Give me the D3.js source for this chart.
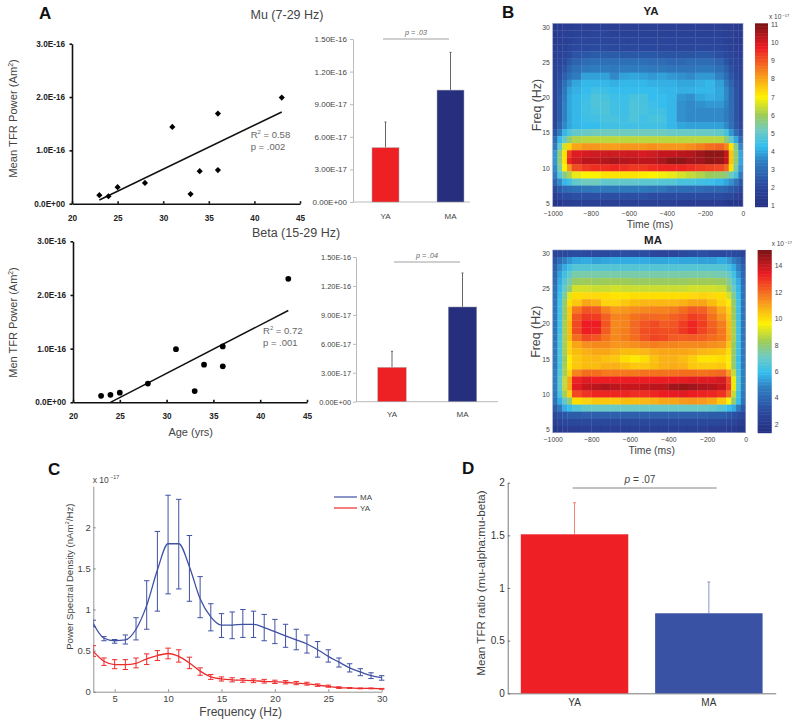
<!DOCTYPE html>
<html>
<head>
<meta charset="utf-8">
<script src="https://cdn.jsdelivr.net/npm/d3@7"></script>
<style>
body { margin: 0; background: #fff; }
text { font-family: "Liberation Sans", Arial, sans-serif; fill: #444; }
.scatter-axis text { font-weight: bold; font-size: 8.2px; fill: #222; }
.scatter-axis path, .scatter-axis line { stroke: #111; stroke-width: 1.6; }
.bar-axis path, .bar-axis line { stroke: #bbb; }
.heat-axis text { font-size: 6.8px; fill: #444; }
.heat-axis path, .heat-axis line { stroke: none; }
.psd-axis text { font-size: 9.5px; fill: #444; }
.psd-axis path, .psd-axis line { stroke: #777; stroke-width: .8; }
.ratio-axis text { font-size: 10px; fill: #333; }
.ratio-axis path, .ratio-axis line { stroke: #555; stroke-width: .8; }
</style>
</head>
<body>
<svg id="fig" width="800" height="722">
<defs><filter id="soft" x="-2%" y="-2%" width="104%" height="104%"><feGaussianBlur stdDeviation="0.7"/></filter></defs>
</svg>
<script>
// scatter data, power in units of 1E-16
var ages = [23, 24, 25, 28, 31, 33, 34, 36, 36, 43];
var mu_power = [0.16, 0.14, 0.31, 0.39, 1.44, 0.18, 0.61, 0.63, 1.69, 1.99];
var beta_power = [0.12, 0.14, 0.18, 0.35, 0.99, 0.21, 0.70, 0.67, 1.04, 2.30];
var mu_fit = [[23, 0.07], [43, 1.72]];
var beta_fit = [[24, 0], [43, 1.71]];
var scatter_y_ticks = [0, 1, 2, 3];
var scatter_y_labels = ["0.0E+00", "1.0E-16", "2.0E-16", "3.0E-16"];
var scatter_x_ticks = [20, 25, 30, 35, 40, 45];

// group bars, units of 1E-17
var groups = ["YA", "MA"];
var mu_means = [5.0, 10.3];
var mu_err_top = [7.36, 13.77];
var beta_means = [3.56, 9.82];
var beta_err_top = [5.22, 13.34];
var bar_y_ticks = [0, 3, 6, 9, 12, 15];
var bar_y_labels = ["0.00E+00", "3.00E-17", "6.00E-17", "9.00E-17", "1.20E-16", "1.50E-16"];

// time-frequency maps, rows 30 Hz down to 5 Hz, columns start at these times
var freqs = d3.range(30, 4, -1);
var time_edges = [-1000, -975, -950, -925, -900, -850, -800, -750, -700, -650, -600, -550, -500, -450, -400, -350, -300, -250, -200, -150, -100, -75, -50, -25, 0];
var ya_map = [
[1.4,1.5,1.6,1.6,1.7,1.7,1.7,1.7,1.7,1.7,1.7,1.7,1.7,1.7,1.7,1.7,1.7,1.7,1.7,1.7,1.6,1.6,1.5,1.4],
[1.5,1.6,1.7,1.7,1.8,1.8,1.9,1.9,1.8,1.8,1.8,1.8,1.8,1.8,1.8,1.8,1.8,1.8,1.8,1.8,1.7,1.7,1.6,1.5],
[1.5,1.6,1.7,1.8,1.9,2.0,2.0,2.0,2.0,1.9,1.9,1.9,1.9,1.9,1.9,1.9,1.9,1.9,1.9,1.9,1.8,1.7,1.6,1.5],
[1.6,1.7,1.8,1.9,2.1,2.1,2.2,2.2,2.1,2.1,2.1,2.1,2.1,2.0,2.0,2.0,2.0,2.1,2.1,2.0,1.9,1.8,1.7,1.6],
[1.6,1.8,1.9,2.1,2.4,2.5,2.6,2.6,2.6,2.5,2.5,2.5,2.5,2.4,2.4,2.4,2.4,2.5,2.5,2.3,2.1,1.9,1.8,1.6],
[1.7,1.9,2.1,2.5,2.8,3.0,3.1,3.1,3.1,3.1,3.1,3.1,3.0,3.0,2.9,2.9,3.0,3.0,3.0,2.8,2.4,2.1,1.9,1.7],
[1.8,2.0,2.4,2.8,3.1,3.3,3.4,3.4,3.3,3.4,3.4,3.4,3.3,3.3,3.2,3.2,3.2,3.3,3.3,3.1,2.7,2.3,2.0,1.8],
[1.8,2.2,2.7,3.1,3.4,3.9,3.9,3.9,3.6,3.9,4.0,3.9,3.8,3.9,3.8,3.7,3.6,3.8,3.8,3.5,3.0,2.5,2.1,1.8],
[1.9,2.4,3.1,3.6,4.0,4.2,4.2,4.2,4.1,4.2,4.2,4.2,4.1,4.1,4.1,4.0,4.0,4.1,4.2,3.9,3.4,2.8,2.3,1.9],
[1.9,2.5,3.3,3.9,4.1,4.3,4.5,4.4,4.3,4.3,4.3,4.3,4.3,4.2,4.2,4.1,4.1,4.2,4.2,4.0,3.6,3.0,2.4,1.9],
[1.9,2.6,3.4,4.0,4.2,4.4,4.7,4.6,4.4,4.4,4.6,4.6,4.3,4.3,4.2,3.8,3.7,4.0,4.1,4.0,3.6,3.0,2.4,1.9],
[1.9,2.6,3.5,4.0,4.2,4.5,4.7,4.7,4.5,4.4,4.7,4.6,4.4,4.3,4.2,3.7,3.6,3.7,3.8,3.8,3.5,3.0,2.4,1.9],
[1.9,2.6,3.5,4.0,4.2,4.5,4.6,4.7,4.5,4.4,4.7,4.6,4.5,4.5,4.2,3.7,3.6,3.6,3.6,3.6,3.4,3.0,2.4,1.9],
[1.9,2.6,3.5,4.0,4.2,4.4,4.5,4.6,4.6,4.5,4.7,4.5,4.6,4.6,4.2,3.7,3.6,3.6,3.6,3.6,3.4,3.0,2.4,1.9],
[2.0,2.8,3.6,4.0,4.2,4.3,4.3,4.5,4.5,4.5,4.5,4.5,4.5,4.5,4.2,4.0,3.9,3.9,3.9,3.9,3.6,3.1,2.5,2.0],
[2.4,3.4,4.2,4.7,5.0,5.1,5.2,5.2,5.2,5.2,5.2,5.2,5.2,5.2,5.1,5.1,5.1,5.1,5.1,5.0,4.6,3.8,3.0,2.4],
[3.0,4.2,5.0,5.8,6.2,6.3,6.3,6.3,6.3,6.3,6.3,6.3,6.3,6.3,6.3,6.3,6.3,6.3,6.3,6.3,5.8,5.0,4.0,3.0],
[3.4,5.0,6.6,7.4,8.0,8.2,8.2,8.1,8.1,8.2,8.2,8.2,8.3,8.2,8.2,8.2,8.3,8.5,8.7,8.8,8.4,7.2,5.6,3.6],
[3.8,5.8,7.2,9.3,9.9,10.0,10.1,10.1,10.1,10.1,10.1,10.0,10.1,10.2,10.2,10.3,10.4,10.6,10.8,10.8,10.2,7.6,5.8,4.0],
[3.8,5.8,7.2,9.6,10.1,10.3,10.3,10.4,10.5,10.4,10.3,10.3,10.3,10.5,10.8,10.8,10.6,10.6,10.8,10.7,10.2,7.6,5.8,4.0],
[3.6,5.4,7.0,8.2,9.1,9.4,9.5,9.5,9.6,9.5,9.4,9.4,9.5,9.6,9.6,9.6,9.5,9.4,9.3,9.2,8.8,7.2,5.4,3.8],
[3.4,4.8,5.6,6.2,6.8,7.0,7.0,7.2,7.2,7.2,7.2,7.1,7.0,6.9,6.8,6.6,6.4,6.2,6.0,5.9,5.7,5.2,4.6,3.4],
[2.8,3.6,4.2,4.5,5.0,5.2,5.2,5.0,5.0,5.0,5.0,4.9,4.9,4.8,4.8,4.6,4.6,4.5,4.4,4.2,4.0,3.7,3.2,2.5],
[2.1,2.6,2.9,3.0,3.1,3.2,3.3,3.3,3.3,3.3,3.3,3.3,3.2,3.2,3.0,3.0,3.0,3.0,2.9,2.9,2.8,2.6,2.4,2.0],
[1.6,2.0,2.2,2.2,2.3,2.3,2.3,2.3,2.3,2.3,2.3,2.3,2.2,2.2,2.2,2.2,2.2,2.2,2.2,2.2,2.1,2.0,1.8,1.6],
[1.2,1.4,1.6,1.6,1.7,1.7,1.7,1.7,1.7,1.7,1.7,1.7,1.7,1.7,1.7,1.6,1.6,1.6,1.6,1.6,1.5,1.4,1.3,1.2]
];
var ma_map = [
[2.6,2.8,2.9,3.0,3.1,3.0,3.0,2.9,3.1,3.2,3.1,3.1,2.8,2.7,2.7,2.9,3.1,3.2,3.0,3.0,3.1,3.0,2.9,2.6],
[3.4,4.2,4.8,5.2,5.5,5.6,5.4,5.5,5.6,5.6,5.6,5.6,5.5,5.5,5.6,5.5,5.5,5.4,5.4,5.6,5.3,4.8,4.2,3.4],
[3.8,5.0,5.6,6.2,6.6,6.6,6.6,6.6,6.6,6.6,6.6,6.6,6.6,6.6,6.6,6.6,6.6,6.6,6.6,6.6,6.3,5.6,4.8,3.8],
[4.0,5.4,6.2,6.9,7.4,7.4,7.4,7.4,7.4,7.4,7.4,7.4,7.4,7.4,7.4,7.4,7.4,7.4,7.4,7.3,7.0,6.2,5.2,4.0],
[4.2,5.6,6.6,7.4,8.2,8.3,8.2,8.3,8.3,8.3,8.2,8.2,8.2,8.2,8.2,8.2,8.3,8.3,8.3,8.2,7.6,6.6,5.6,4.2],
[4.4,5.8,7.0,8.0,9.0,9.0,8.9,8.9,9.0,8.9,8.9,8.9,8.9,8.9,8.9,8.9,9.0,9.0,9.0,8.9,8.2,7.0,5.8,4.4],
[4.4,6.0,7.6,9.2,10.0,10.1,10.1,10.0,9.9,9.9,10.0,10.0,10.0,10.0,10.0,10.0,10.1,10.2,10.1,10.0,9.0,7.6,6.0,4.4],
[4.5,6.2,8.0,10.0,10.4,11.0,10.8,10.2,10.2,10.4,10.6,10.7,10.7,10.7,10.7,10.8,11.0,11.0,10.6,10.2,9.8,8.0,6.2,4.5],
[4.5,6.2,8.2,10.4,11.8,12.4,12.3,11.6,11.2,11.3,11.4,11.5,11.6,11.6,11.7,12.0,12.3,12.2,11.6,10.9,10.2,8.2,6.2,4.5],
[4.5,6.2,8.2,10.4,12.4,12.9,12.8,12.2,11.6,11.6,11.9,12.1,12.1,12.0,12.2,12.4,12.8,12.6,11.9,11.3,10.4,8.2,6.2,4.5],
[4.5,6.2,8.4,10.6,12.6,13.4,13.4,12.4,11.5,11.6,12.1,12.4,12.6,12.3,12.4,12.8,13.2,12.8,12.2,11.7,10.6,8.4,6.2,4.5],
[4.5,6.2,8.4,10.6,12.6,13.4,13.3,12.3,11.5,11.7,12.1,12.5,12.6,12.5,12.5,12.9,13.2,12.7,12.3,11.8,10.7,8.4,6.2,4.5],
[4.5,6.4,8.4,10.6,12.0,12.6,12.4,11.9,11.5,11.7,12.0,12.4,12.7,12.6,12.3,12.2,12.3,12.2,12.0,11.8,10.8,8.4,6.2,4.5],
[4.6,6.4,8.4,10.2,11.0,11.4,11.5,11.5,11.3,11.3,11.4,11.6,11.7,11.6,11.6,11.5,11.5,11.5,11.4,11.3,10.4,8.2,6.2,4.6],
[4.6,6.4,8.4,10.2,10.6,10.8,11.0,11.0,10.8,10.6,10.6,10.7,10.9,11.0,11.0,11.0,10.9,10.7,10.6,10.5,10.0,8.0,6.2,4.6],
[4.6,6.4,8.2,9.8,10.4,10.6,10.7,10.5,10.4,10.0,9.8,10.0,10.5,10.8,10.8,10.6,10.3,9.9,9.9,10.0,9.8,8.0,6.0,4.6],
[4.6,6.4,8.4,9.8,10.4,10.6,10.6,10.8,10.8,10.6,10.4,10.4,10.6,10.8,10.9,10.8,10.4,10.3,10.3,10.4,9.8,8.0,6.2,4.6],
[4.8,6.6,8.4,10.2,11.6,12.0,12.0,11.8,11.8,11.8,11.8,11.9,11.9,11.9,11.9,12.0,12.0,11.9,12.0,12.1,11.2,8.8,6.4,4.8],
[4.8,6.8,8.8,11.0,13.3,13.6,13.4,13.4,13.4,13.4,13.4,13.4,13.4,13.4,13.4,13.5,13.6,13.6,13.6,13.8,12.6,9.4,6.6,4.8],
[4.8,6.8,8.8,11.0,13.6,14.0,14.2,14.4,14.2,14.0,14.0,14.1,14.2,14.2,14.6,14.7,14.6,14.4,14.3,14.0,12.8,9.4,6.6,4.8],
[4.6,6.4,8.4,10.2,12.6,13.0,13.2,13.2,13.2,13.2,13.1,13.1,13.2,13.4,13.5,13.6,13.4,13.3,13.2,13.0,12.0,8.8,6.2,4.6],
[4.4,5.6,6.8,8.0,10.0,10.2,10.4,10.4,10.4,10.6,10.6,10.7,10.8,11.0,11.0,11.2,11.3,11.2,11.0,10.4,9.6,8.0,6.0,4.4],
[3.6,4.6,5.6,6.0,6.5,6.9,7.0,7.0,7.0,7.0,7.0,7.0,7.0,7.0,7.0,7.0,7.0,7.0,6.9,6.6,6.0,5.6,4.6,3.6],
[2.8,3.2,3.4,3.6,3.6,3.7,3.7,3.7,3.7,3.7,3.7,3.7,3.7,3.7,3.7,3.7,3.7,3.7,3.6,3.6,3.4,3.2,3.0,2.7],
[2.3,2.6,2.8,2.8,2.9,2.9,2.9,2.9,2.9,2.9,2.9,2.9,2.9,2.9,2.9,2.9,2.9,2.9,2.9,2.8,2.7,2.6,2.4,2.2],
[1.9,2.1,2.2,2.2,2.2,2.3,2.3,2.3,2.3,2.3,2.3,2.3,2.3,2.3,2.3,2.3,2.3,2.3,2.2,2.2,2.1,2.0,1.9,1.8]
];
var ya_ticks = [1, 2, 3, 4, 5, 6, 7, 8, 9, 10, 11];
var ma_ticks = [2, 4, 6, 8, 10, 12, 14];
var time_ticks = [-1000, -800, -600, -400, -200, 0];
var freq_ticks = [5, 10, 15, 20, 25, 30];

// spectral density, units of 1E-17
var psd_freq = d3.range(3, 31);
var ma_psd = [0.83, 0.65, 0.62, 0.63, 0.76, 1.05, 1.48, 1.80, 1.80, 1.52, 1.13, 0.91, 0.81, 0.81, 0.82, 0.82, 0.78, 0.73, 0.68, 0.63, 0.58, 0.51, 0.43, 0.36, 0.29, 0.24, 0.195, 0.17];
var ma_hi = [0.87, 0.67, 0.635, 0.69, 0.90, 1.35, 1.95, 2.39, 2.34, 1.90, 1.40, 1.07, 0.95, 0.97, 1.00, 0.98, 0.94, 0.88, 0.82, 0.76, 0.69, 0.61, 0.51, 0.41, 0.34, 0.28, 0.23, 0.195];
var ma_lo = [0.79, 0.62, 0.59, 0.58, 0.63, 0.76, 0.98, 1.19, 1.25, 1.10, 0.90, 0.74, 0.66, 0.645, 0.66, 0.66, 0.62, 0.585, 0.54, 0.51, 0.47, 0.42, 0.36, 0.30, 0.24, 0.195, 0.16, 0.14];
var ya_psd = [0.49, 0.37, 0.33, 0.33, 0.345, 0.40, 0.44, 0.465, 0.43, 0.35, 0.25, 0.18, 0.155, 0.145, 0.14, 0.135, 0.125, 0.12, 0.115, 0.105, 0.095, 0.08, 0.065, 0.05, 0.045, 0.04, 0.04, 0.035];
var ya_hi = [0.56, 0.41, 0.39, 0.39, 0.41, 0.46, 0.50, 0.53, 0.51, 0.42, 0.29, 0.21, 0.18, 0.17, 0.16, 0.155, 0.15, 0.14, 0.135, 0.125, 0.115, 0.095, 0.08, 0.06, 0.05, 0.045, 0.045, 0.04];
var ya_lo = [0.43, 0.32, 0.28, 0.27, 0.29, 0.33, 0.38, 0.40, 0.36, 0.28, 0.20, 0.15, 0.13, 0.12, 0.115, 0.11, 0.105, 0.10, 0.095, 0.085, 0.08, 0.065, 0.055, 0.04, 0.04, 0.035, 0.035, 0.03];

// ratio bars
var ratio_means = [1.51, 0.76];
var ratio_err_top = [1.81, 1.057];
var ratio_ticks = [0, 0.5, 1, 1.5, 2];

var svg = d3.select("#fig");

// text with a raised part, parts are [string, raised]
function add_text(x, y, parts, size, opts){
    opts = opts || {};
    var t = svg.append("text")
        .attr("x", x).attr("y", y)
        .style("font-size", size + "px")
        .attr("text-anchor", opts.anchor || "start");
    if(opts.rotate){
        t.attr("transform", "rotate(-90 " + x + " " + y + ")");
    }
    if(opts.weight) t.style("font-weight", opts.weight);
    if(opts.style) t.style("font-style", opts.style);
    if(opts.fill) t.style("fill", opts.fill);
    if(typeof parts == "string") parts = [[parts, false]];
    var was_up = false;
    parts.forEach(p => {
        var s = t.append("tspan").text(p[0]);
        if(p[1]){
            s.attr("dy", -size * 0.38).style("font-size", (size * 0.62) + "px");
        } else if(was_up){
            s.attr("dy", size * 0.38);
        }
        was_up = p[1];
    });
    return t;
}

function draw_scatter(c){
    let x = d3.scaleLinear().domain([20, 45]).range(c.x_range);
    let y = d3.scaleLinear().domain([0, 3]).range(c.y_range);

    svg.append("g").attr("class", "scatter-axis")
        .attr("transform", "translate(0," + c.y_range[0] + ")")
        .call(d3.axisBottom(x).tickValues(scatter_x_ticks).tickSize(-2.5).tickPadding(11).tickSizeOuter(0));
    svg.append("g").attr("class", "scatter-axis")
        .attr("transform", "translate(" + c.x_range[0] + ",0)")
        .call(d3.axisLeft(y).tickValues(scatter_y_ticks).tickSize(2.5).tickPadding(4.5).tickSizeOuter(0)
            .tickFormat((d, i) => scatter_y_labels[i]));

    svg.append("line")
        .attr("x1", x(c.fit[0][0])).attr("y1", y(c.fit[0][1]))
        .attr("x2", x(c.fit[1][0])).attr("y2", y(c.fit[1][1]))
        .attr("stroke", "#111").attr("stroke-width", 1.5);

    svg.selectAll(null)
        .data(ages.map((a, i) => [a, c.values[i]]))
        .join("path")
        .attr("d", d3.symbol().type(c.symbol).size(c.symbol_size))
        .attr("transform", d => "translate(" + x(d[0]) + "," + y(d[1]) + ")")
        .attr("fill", "#000");
}

function draw_bars(c){
    let x = d3.scalePoint().domain(groups).range(c.centers);
    let y = d3.scaleLinear().domain([0, 15]).range(c.y_range);

    let axis = svg.append("g").attr("class", "bar-axis")
        .attr("transform", "translate(" + c.axis_x + ",0)")
        .call(d3.axisLeft(y).tickValues(bar_y_ticks).tickSize(3).tickPadding(c.tick_pad).tickSizeOuter(0)
            .tickFormat((d, i) => bar_y_labels[i]));
    axis.selectAll("text").style("font-size", c.tick_font + "px");
    svg.append("line")
        .attr("x1", c.axis_x).attr("x2", c.axis_end)
        .attr("y1", y(0)).attr("y2", y(0))
        .attr("stroke", "#bbb");
    groups.forEach(g => {
        add_text(x(g), c.label_y, g, 8, {anchor: "middle"});
    });

    svg.selectAll(null).data(groups).join("line")
        .attr("x1", d => x(d)).attr("x2", d => x(d))
        .attr("y1", (d, i) => y(c.err[i])).attr("y2", (d, i) => y(c.means[i]))
        .attr("stroke", "#666").attr("stroke-width", 1);
    svg.selectAll(null).data(groups).join("line")
        .attr("x1", d => x(d) - 1).attr("x2", d => x(d) + 1)
        .attr("y1", (d, i) => y(c.err[i])).attr("y2", (d, i) => y(c.err[i]))
        .attr("stroke", "#666");
    svg.selectAll(null).data(groups).join("rect")
        .attr("x", d => x(d) - c.bar_w / 2).attr("width", c.bar_w)
        .attr("y", (d, i) => y(c.means[i]))
        .attr("height", (d, i) => y(0) - y(c.means[i]))
        .attr("fill", (d, i) => i == 0 ? "#ed2024" : "#262f7e")
        .attr("stroke", "#aaa").attr("stroke-width", .5);

    svg.append("line")
        .attr("x1", c.p_x[0]).attr("x2", c.p_x[1])
        .attr("y1", c.p_y).attr("y2", c.p_y)
        .attr("stroke", "#888").attr("stroke-width", .8);
    add_text((c.p_x[0] + c.p_x[1]) / 2, c.p_y - 4, c.p_text, 7.2, {anchor: "middle", style: "italic", fill: "#666"});
}

// colours, position 0..1 along the bar
var map_stops = [0, 0.12, 0.25, 0.33, 0.42, 0.5, 0.6, 0.72, 0.87, 1];
var map_colours = ["#262f82", "#2b4a9f", "#2f7fc1", "#35bdee", "#6fcbc0", "#9dcb5a", "#fff200", "#f7941d", "#ed1c24", "#7a1315"];

function draw_map(c){
    let x = d3.scaleLinear().domain([-1000, 0]).range(c.x_range);
    let y = d3.scaleBand().domain(freqs).range(c.y_range);
    let y_tick = d3.scaleLinear().domain([30, 5]).range([y(30) + y.bandwidth() / 2, y(5) + y.bandwidth() / 2]);
    let colour = d3.scaleLinear()
        .domain(map_stops.map(s => c.limits[0] + s * (c.limits[1] - c.limits[0])))
        .range(map_colours).clamp(true);

    svg.append("clipPath").attr("id", c.title + "-clip").append("rect")
        .attr("x", c.x_range[0]).attr("y", c.y_range[0])
        .attr("width", c.x_range[1] - c.x_range[0])
        .attr("height", c.y_range[1] - c.y_range[0]);

    svg.append("g").attr("clip-path", "url(#" + c.title + "-clip)")
        .append("g").attr("filter", "url(#soft)")
        .selectAll("g")
        .data(c.map).join("g")
        .each(function(row, r){
            d3.select(this).selectAll("rect").data(row).join("rect")
                .attr("x", (d, i) => x(time_edges[i]))
                .attr("width", (d, i) => x(time_edges[i + 1]) - x(time_edges[i]) + .3)
                .attr("y", y(freqs[r]))
                .attr("height", y.bandwidth() + .3)
                .attr("fill", d => colour(d));
        });

    svg.append("rect")
        .attr("x", c.x_range[0]).attr("y", c.y_range[0])
        .attr("width", c.x_range[1] - c.x_range[0])
        .attr("height", c.y_range[1] - c.y_range[0])
        .attr("fill", "none").attr("stroke", "#8a93c0").attr("stroke-width", .6);

    svg.append("g").attr("class", "heat-axis")
        .attr("transform", "translate(0," + c.y_range[1] + ")")
        .call(d3.axisBottom(x).tickValues(time_ticks).tickSize(0).tickPadding(4).tickSizeOuter(0)
            .tickFormat(d => d == 0 ? "0" : "\u2212" + Math.abs(d)));
    svg.append("g").attr("class", "heat-axis")
        .attr("transform", "translate(" + c.x_range[0] + ",0)")
        .call(d3.axisLeft(y_tick).tickValues(freq_ticks).tickSize(0).tickPadding(3).tickSizeOuter(0));

    // colour bar
    let bar_y = d3.scaleLinear().domain(c.limits).range([c.y_range[1], c.y_range[0]]);
    let bar_steps = d3.range(0, 128);
    svg.append("g").selectAll("rect").data(bar_steps).join("rect")
        .attr("x", c.bar_x[0]).attr("width", c.bar_x[1] - c.bar_x[0])
        .attr("y", d => bar_y(c.limits[0] + (d + 1) / 128 * (c.limits[1] - c.limits[0])))
        .attr("height", (c.y_range[1] - c.y_range[0]) / 128 + .5)
        .attr("fill", d => colour(c.limits[0] + (d + .5) / 128 * (c.limits[1] - c.limits[0])));
    svg.append("g").attr("class", "heat-axis")
        .attr("transform", "translate(" + c.bar_x[1] + ",0)")
        .call(d3.axisRight(bar_y).tickValues(c.ticks).tickSize(0).tickPadding(3).tickSizeOuter(0));

    add_text(c.title_x, c.title_y, c.title, 11.5, {anchor: "middle", weight: "bold", fill: "#222"});
    add_text(c.freq_x, c.freq_y, "Freq (Hz)", 12.4, {anchor: "middle", rotate: true});
    add_text(c.time_x, c.time_y, "Time (ms)", 10.4, {anchor: "middle"});
    add_text(c.exp_x, c.exp_y, [["x 10", false], [" \u221217", true]], 6.5);
}

function draw_psd(){
    let x = d3.scaleLinear().domain([3, 30]).range([93.3, 381.7]);
    let y = d3.scaleLinear().domain([0, 2.5]).range([691.7, 486.2]);

    svg.append("defs").append("clipPath").attr("id", "psd-clip")
        .append("rect").attr("x", 93.3).attr("y", 480).attr("width", 300).attr("height", 215);

    svg.append("g").attr("class", "psd-axis")
        .attr("transform", "translate(0,691.7)")
        .call(d3.axisBottom(x).tickValues([5, 10, 15, 20, 25, 30]).tickSize(-2.5).tickPadding(3.5).tickSizeOuter(0));
    svg.append("g").attr("class", "psd-axis")
        .attr("transform", "translate(93.3,0)")
        .call(d3.axisLeft(y).tickValues([0, 0.5, 1, 1.5, 2]).tickSize(-2.5).tickPadding(2.5).tickSizeOuter(0)
            .tickFormat(d3.format("")));

    let plot = svg.append("g").attr("clip-path", "url(#psd-clip)");
    let series = [
        {vals: ma_psd, hi: ma_hi, lo: ma_lo, colour: "#3f51a3"},
        {vals: ya_psd, hi: ya_hi, lo: ya_lo, colour: "#ee2b2b"}
    ];
    series.forEach(s => {
        plot.selectAll(null).data(psd_freq).join("line")
            .attr("x1", d => x(d)).attr("x2", d => x(d))
            .attr("y1", (d, i) => y(s.hi[i])).attr("y2", (d, i) => y(s.lo[i]))
            .attr("stroke", s.colour).attr("stroke-width", 1);
        [s.hi, s.lo].forEach(e => {
            plot.selectAll(null).data(psd_freq).join("line")
                .attr("x1", d => x(d) - 2.7).attr("x2", d => x(d) + 2.7)
                .attr("y1", (d, i) => y(e[i])).attr("y2", (d, i) => y(e[i]))
                .attr("stroke", s.colour).attr("stroke-width", 1);
        });
        plot.append("path")
            .attr("d", d3.line().x(d => x(d)).y((d, i) => y(s.vals[i])).curve(d3.curveMonotoneX)(psd_freq))
            .attr("fill", "none").attr("stroke", s.colour).attr("stroke-width", 1.3);
    });

    [["MA", 497, "#3f51a3"], ["YA", 508, "#ee2b2b"]].forEach(l => {
        svg.append("line").attr("x1", 334).attr("x2", 357).attr("y1", l[1]).attr("y2", l[1])
            .attr("stroke", l[2]).attr("stroke-width", 1.2);
        add_text(360, l[1] + 3, l[0], 8);
    });

    add_text(92.7, 482.7, [["x 10", false], [" \u221217", true]], 8.5);
    add_text(73, 576.7, [["Power Spectral Density (nAm", false], ["2", true], ["/Hz)", false]], 9.6, {anchor: "middle", rotate: true});
    add_text(240.7, 715.5, "Frequency (Hz)", 12, {anchor: "middle"});
}

function draw_ratio(){
    let x = d3.scaleBand().domain(groups).range([507.7, 775.7]).paddingInner(0.2).paddingOuter(0.0977);
    let y = d3.scaleLinear().domain([0, 2]).range([693.3, 482.7]);

    svg.append("g").attr("class", "ratio-axis")
        .attr("transform", "translate(0,693.3)")
        .call(d3.axisBottom(x).tickSize(0).tickPadding(6).tickSizeOuter(0));
    svg.append("g").attr("class", "ratio-axis")
        .attr("transform", "translate(507.7,0)")
        .call(d3.axisLeft(y).tickValues(ratio_ticks).tickSize(-2.5).tickPadding(3).tickSizeOuter(0)
            .tickFormat(d3.format("")));

    svg.selectAll(null).data(groups).join("line")
        .attr("x1", d => x(d) + x.bandwidth() / 2).attr("x2", d => x(d) + x.bandwidth() / 2)
        .attr("y1", (d, i) => y(ratio_err_top[i])).attr("y2", (d, i) => y(ratio_means[i]))
        .attr("stroke", (d, i) => i == 0 ? "#f0826e" : "#8a94c8");
    svg.selectAll(null).data(groups).join("line")
        .attr("x1", d => x(d) + x.bandwidth() / 2 - 1.5).attr("x2", d => x(d) + x.bandwidth() / 2 + 1.5)
        .attr("y1", (d, i) => y(ratio_err_top[i])).attr("y2", (d, i) => y(ratio_err_top[i]))
        .attr("stroke", (d, i) => i == 0 ? "#f0826e" : "#8a94c8");
    svg.selectAll(null).data(groups).join("rect")
        .attr("x", d => x(d)).attr("width", x.bandwidth())
        .attr("y", (d, i) => y(ratio_means[i]))
        .attr("height", (d, i) => y(0) - y(ratio_means[i]))
        .attr("fill", (d, i) => i == 0 ? "#ee1f25" : "#3952a3");

    svg.append("line").attr("x1", 572.7).attr("x2", 716.7).attr("y1", 488).attr("y2", 488)
        .attr("stroke", "#666").attr("stroke-width", .8);
    let p = add_text(640, 483, [["p", false]], 10, {anchor: "middle", style: "italic"});
    p.append("tspan").style("font-style", "normal").text(" = .07");
    add_text(485, 583, "Mean TFR ratio (mu-alpha:mu-beta)", 11.6, {anchor: "middle", rotate: true});
}

draw_scatter({x_range: [72, 300], y_range: [203.7, 43.7], values: mu_power, fit: mu_fit, symbol: d3.symbolDiamond2, symbol_size: 24});
draw_scatter({x_range: [73, 307], y_range: [402.3, 241.3], values: beta_power, fit: beta_fit, symbol: d3.symbolCircle, symbol_size: 26});

draw_bars({centers: [385.5, 450.5], y_range: [202, 39], axis_x: 353, axis_end: 470, bar_w: 27, means: mu_means, err: mu_err_top, p_x: [383, 449], p_y: 39, p_text: "p = .03", label_y: 219, tick_font: 8, tick_pad: 3});
draw_bars({centers: [392, 462.5], y_range: [401.7, 257], axis_x: 356, axis_end: 498, bar_w: 28.5, means: beta_means, err: beta_err_top, p_x: [394, 460], p_y: 262, p_text: "p = .04", label_y: 417, tick_font: 7.4, tick_pad: 2});

draw_map({map: ya_map, x_range: [552.7, 743], y_range: [23.3, 206.7], limits: [0.95, 11.05], ticks: ya_ticks, bar_x: [755, 768], title: "YA", title_x: 651, title_y: 14.5, freq_x: 540.5, freq_y: 105, time_x: 650, time_y: 227.7, exp_x: 769, exp_y: 19});
draw_map({map: ma_map, x_range: [552.7, 745.7], y_range: [250, 432.7], limits: [1.33, 15.2], ticks: ma_ticks, bar_x: [757.7, 771.7], title: "MA", title_x: 653, title_y: 244, freq_x: 540.5, freq_y: 331.7, time_x: 651.7, time_y: 454, exp_x: 771.7, exp_y: 246});

draw_psd();
draw_ratio();

add_text(287, 18.5, "Mu (7-29 Hz)", 12.5, {anchor: "middle"});
add_text(296, 237, "Beta (15-29 Hz)", 12.5, {anchor: "middle"});
add_text(17, 118.5, [["Mean TFR Power (Am", false], ["2", true], [")", false]], 11.2, {anchor: "middle", rotate: true});
add_text(17, 322.5, [["Men TFR Power (Am", false], ["2", true], [")", false]], 11, {anchor: "middle", rotate: true});
add_text(190.7, 435.7, "Age (yrs)", 11, {anchor: "middle"});
add_text(250.7, 138, [["R", false], ["2", true], [" = 0.58", false]], 9.5, {fill: "#666"});
add_text(250.7, 150, "p = .002", 9.5, {fill: "#666"});
add_text(263, 334, [["R", false], ["2", true], [" = 0.72", false]], 9.5, {fill: "#666"});
add_text(263, 345.7, "p = .001", 9.5, {fill: "#666"});

[["A", 39, 18.5], ["B", 502, 18], ["C", 48, 475], ["D", 462, 474]].forEach(l => {
    add_text(l[1], l[2], l[0], 17, {weight: "bold", fill: "#111"});
});
</script>
</body>
</html>
